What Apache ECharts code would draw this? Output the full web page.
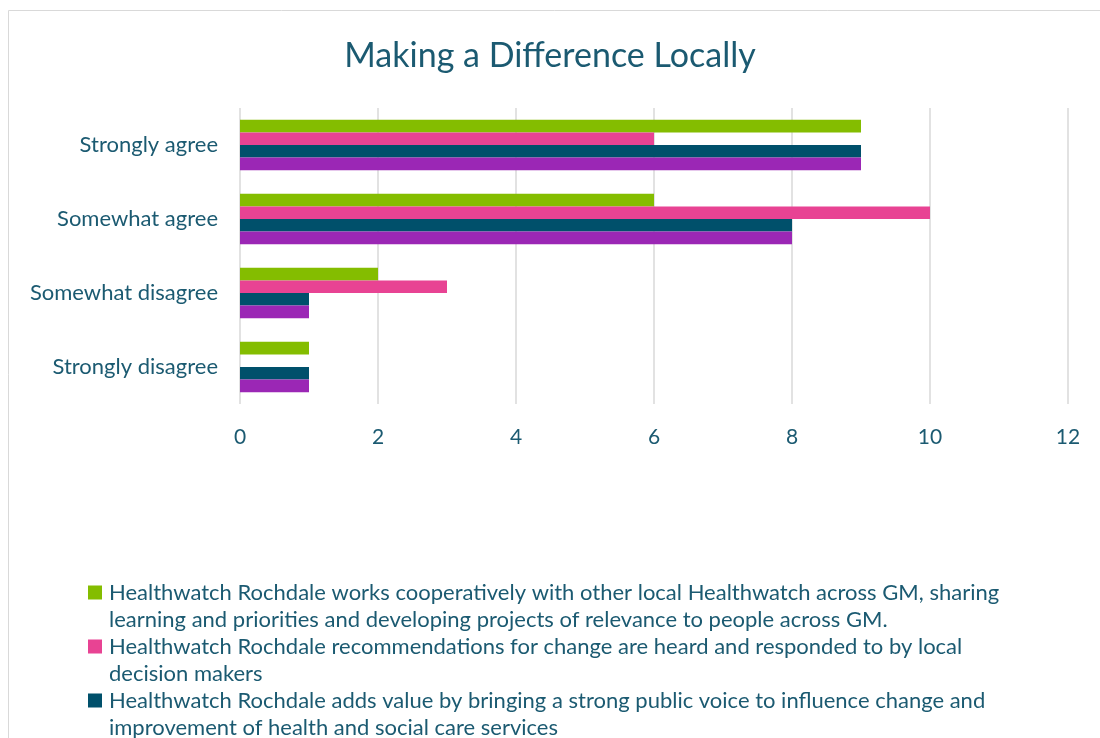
<!DOCTYPE html>
<html>
<head>
<meta charset="utf-8">
<script src="https://cdn.jsdelivr.net/npm/echarts@6/dist/echarts.min.js"></script>
<style>
  html, body { margin: 0; padding: 0; background: #fff; }
  #chart { width: 1100px; height: 738px; }
</style>
</head>
<body>
<div id="chart"></div>
<script>
const categories = ['Strongly agree', 'Somewhat agree', 'Somewhat disagree', 'Strongly disagree']
const seriesNames = [
  'Healthwatch Rochdale works cooperatively with other local Healthwatch across GM, sharing learning and priorities and developing projects of relevance to people across GM.',
  'Healthwatch Rochdale recommendations for change are heard and responded to by local decision makers',
  'Healthwatch Rochdale adds value by bringing a strong public voice to influence change and improvement of health and social care services',
  'Healthwatch Rochdale makes a difference to people locally'
]
// wrapped legend text, as in the picture
const legendText = [
  'Healthwatch Rochdale works cooperatively with other local Healthwatch across GM, sharing\nlearning and priorities and developing projects of relevance to people across GM.',
  'Healthwatch Rochdale recommendations for change are heard and responded to by local\ndecision makers',
  'Healthwatch Rochdale adds value by bringing a strong public voice to influence change and\nimprovement of health and social care services',
  'Healthwatch Rochdale makes a difference to people locally'
]
const cooperates = [9, 6, 2, 1]
const heard = [6, 10, 3, 0]
const addsValue = [9, 8, 1, 1]
const difference = [9, 8, 1, 1]
const colors = ['#84bd00', '#e84393', '#00506b', '#9b27b5']

const textColor = '#1b5a71'
const font = 'Lato'
// square sitting on the first text line of a two line legend entry
const topSquare = 'path://M0,6.5h14v14h-14Z M0,0h0.01v0.01h-0.01Z M13.99,53.99h0.01v0.01h-0.01Z'

const chart = echarts.init(document.getElementById('chart'))
const values = [cooperates, heard, addsValue, difference]

chart.setOption({
  animation: false,
  textStyle: { fontFamily: font },
  graphic: [{
    type: 'rect',
    shape: { x: 8.5, y: 10.5, width: 1200, height: 800 },
    style: { fill: 'none', stroke: '#d9d9d9', lineWidth: 1 }
  }],
  title: {
    text: 'Making a Difference Locally',
    left: 'center',
    top: 34,
    textStyle: { fontFamily: font, fontSize: 34, fontWeight: 'normal', color: textColor }
  },
  grid: { left: 240, right: 32, top: 108, bottom: 334, containLabel: false },
  xAxis: {
    type: 'value',
    min: 0,
    max: 12,
    interval: 2,
    axisLine: { show: false },
    axisTick: { show: false },
    axisLabel: { color: textColor, fontSize: 21, margin: 23, fontFamily: font },
    splitLine: { show: true, lineStyle: { color: '#d9d9d9', width: 1.5 } }
  },
  yAxis: {
    type: 'category',
    data: categories,
    inverse: true,
    axisLine: { show: false },
    axisTick: { show: false },
    axisLabel: { color: textColor, fontSize: 22, margin: 22, fontFamily: font }
  },
  legend: {
    orient: 'vertical',
    left: 83,
    top: 574,
    height: 600,
    itemWidth: 14,
    itemHeight: 54,
    itemGap: 0,
    icon: topSquare,
    formatter: name => legendText[seriesNames.indexOf(name)],
    textStyle: { color: textColor, fontSize: 22, lineHeight: 27, fontFamily: font, padding: [0, 0, 0, 2] },
    data: seriesNames
  },
  series: seriesNames.map((name, i) => ({
    name: name,
    type: 'bar',
    data: values[i],
    barGap: '0%',
    barCategoryGap: '32%',
    itemStyle: { color: colors[i] }
  }))
})
</script>
</body>
</html>
